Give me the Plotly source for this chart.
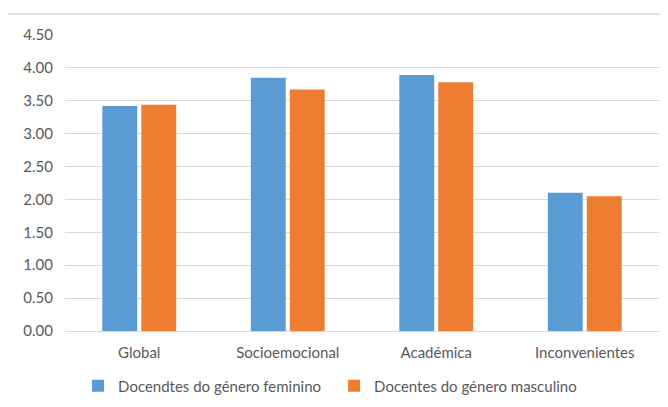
import plotly.graph_objects as go

categories = ["Global", "Socioemocional", "Académica", "Inconvenientes"]
feminino = [3.42, 3.85, 3.89, 2.10]
masculino = [3.44, 3.67, 3.78, 2.05]
series_names = ["Docendtes do género feminino", "Docentes do género masculino"]
tick_vals = [0, 0.5, 1, 1.5, 2, 2.5, 3, 3.5, 4, 4.5]

fig = go.Figure()
fig.add_trace(go.Bar(x=categories, y=feminino, name=series_names[0],
                     marker=dict(color="#5b9bd5", line=dict(width=0))))
fig.add_trace(go.Bar(x=categories, y=masculino, name=series_names[1],
                     marker=dict(color="#ed7d31", line=dict(width=0))))

font_family = "Lato, Liberation Sans, Arial, sans-serif"
fs = 15
# page has 8px body margin: plot area in page coords x 65..659, y 35..331
fig.update_layout(
    width=668, height=407,
    margin=dict(l=57, r=17, t=27, b=84),
    paper_bgcolor="white", plot_bgcolor="white",
    barmode="group", bargap=0.475, bargroupgap=0.105,
    font=dict(family=font_family, size=fs, color="#595959"),
    showlegend=True,
    legend=dict(orientation="h", x=0.453, xanchor="center", y=-0.186, yanchor="middle",
                font=dict(size=fs, color="#595959"), itemwidth=30, traceorder="normal",
                entrywidth=211),
    xaxis=dict(showgrid=False, showline=True, linecolor="#d9d9d9", ticks="",
               ticklabelstandoff=8,
               tickfont=dict(size=fs, color="#595959")),
    yaxis=dict(range=[0, 4.5], tickvals=tick_vals, tickformat=".2f",
               showgrid=True, gridcolor="#d9d9d9", gridwidth=1, zeroline=False,
               showline=False, ticks="", ticklen=0, ticklabelstandoff=11,
               tickfont=dict(size=fs, color="#595959")),
    shapes=[
        dict(type="line", xref="paper", yref="paper", x0=-0.0976, x1=1.2, y0=1.0709, y1=1.0709,
             line=dict(color="#d9d9d9", width=1.5)),
        dict(type="line", xref="paper", yref="paper", x0=-0.0976, x1=-0.0976, y0=1.0709, y1=-0.35,
             line=dict(color="#d9d9d9", width=1.5)),
    ],
)
fig.write_html("out.html")
